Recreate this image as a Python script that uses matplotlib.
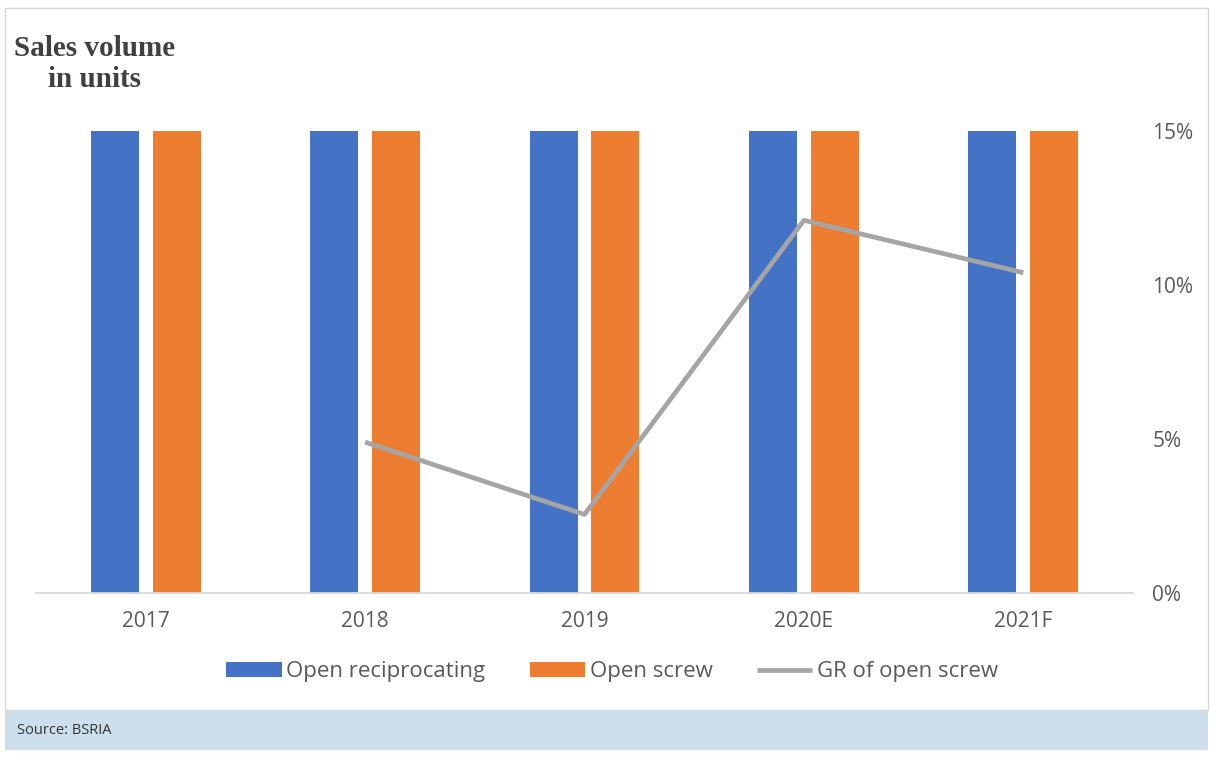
import matplotlib
matplotlib.use("Agg")
import matplotlib.pyplot as plt
from matplotlib.patches import Rectangle
import numpy as np

categories = ["2017", "2018", "2019", "2020E", "2021F"]
open_reciprocating = [15, 15, 15, 15, 15]   # bars shown reaching top of chart
open_screw = [15, 15, 15, 15, 15]
gr_open_screw = [None, 4.9, 2.55, 12.1, 10.4]   # percent
y_ticks = [0, 5, 10, 15]

BLUE = "#4472C4"
ORANGE = "#ED7D31"
GRAY = "#A5A5A5"
TXT = "#595959"

fig = plt.figure(figsize=(12.17, 7.61), dpi=100)
W, H = 1217, 761

def fx(px):
    return px / W

def fy(py):
    return 1 - py / H

# outer border
fig.patches.append(Rectangle((fx(5), fy(710)), fx(1208) - fx(5), fy(8) - fy(710),
                             transform=fig.transFigure, fill=False,
                             edgecolor="#d6d6d6", linewidth=1.0))
# source band
fig.patches.append(Rectangle((fx(5), fy(750)), fx(1208) - fx(5), fy(711) - fy(750),
                             transform=fig.transFigure, facecolor="#cddfec",
                             edgecolor="none"))
fig.text(fx(17), fy(730), "Source: BSRIA", fontsize=10.5, color="#333333",
         va="center", ha="left", family="Open Sans")

ax = fig.add_axes([fx(36), fy(593), fx(1133) - fx(36), fy(131) - fy(593)])
x = np.arange(len(categories))
bw = 0.219
off = 0.141
b1 = ax.bar(x - off, open_reciprocating, bw, color=BLUE, label="Open reciprocating", zorder=2)
b2 = ax.bar(x + off, open_screw, bw, color=ORANGE, label="Open screw", zorder=2)

lx = [i for i, v in enumerate(gr_open_screw) if v is not None]
ly = [v for v in gr_open_screw if v is not None]
ln, = ax.plot(lx, ly, color=GRAY, linewidth=3.4, label="GR of open screw", zorder=3,
              solid_capstyle="butt")

ax.set_xlim(-0.5, len(categories) - 0.5)
ax.set_ylim(0, 15)
ax.set_xticks(x)
ax.set_xticklabels(categories)
ax.yaxis.tick_right()
ax.set_yticks(y_ticks)
ax.set_yticklabels([f"{t}%" for t in y_ticks])
for lab in ax.get_xticklabels() + ax.get_yticklabels():
    lab.set_family("Open Sans")
    lab.set_fontsize(15)
    lab.set_color(TXT)
ax.tick_params(axis="x", length=0, pad=13)
ax.tick_params(axis="y", length=0, pad=14)
for s in ["top", "left", "right"]:
    ax.spines[s].set_visible(False)
ax.spines["bottom"].set_color("#d9d9d9")
ax.spines["bottom"].set_linewidth(1.3)
ax.patch.set_alpha(0)

leg = fig.legend([b1, b2, ln], ["Open reciprocating", "Open screw", "GR of open screw"],
                 loc="center", bbox_to_anchor=(fx(612), fy(672)), ncol=3,
                 frameon=False, handlelength=2.5, handleheight=0.65,
                 handletextpad=0.2, columnspacing=2.0,
                 prop={"family": "Open Sans", "size": 16})
for t in leg.get_texts():
    t.set_color(TXT)

fig.text(fx(95), fy(64), "Sales volume\nin units", fontsize=21, fontweight="bold",
         family="Liberation Serif", color="#404040", ha="center", va="center",
         linespacing=1.2)

fig.savefig("out.png", dpi=100)
